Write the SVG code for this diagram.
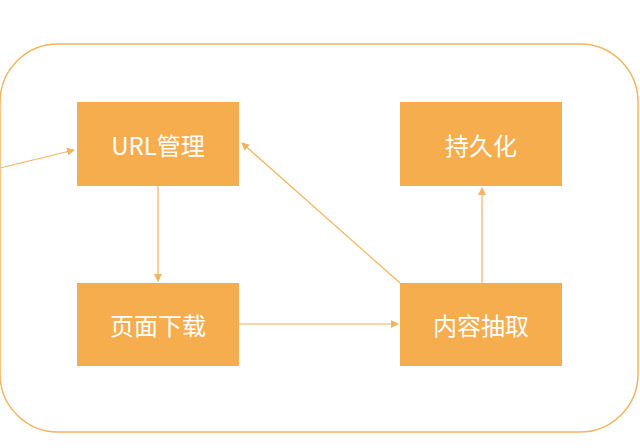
<svg xmlns="http://www.w3.org/2000/svg" width="640" height="448" viewBox="0 0 640 448">
<style>
.box{fill:#F5AD4E}
.t{fill:#fff;font-family:"Noto Sans CJK SC","Noto Sans",sans-serif;font-size:24px;text-anchor:middle;dominant-baseline:central}
.c{stroke:#F2B45E;stroke-width:1.2;fill:none;marker-end:url(#a)}
</style>
<defs><marker id="a" markerWidth="8" markerHeight="8" refX="7" refY="4" orient="auto" markerUnits="userSpaceOnUse"><path d="M0,0L8,4L0,8Z" fill="#F2B45E"/></marker></defs>
<rect width="640" height="448" fill="#fff"/>
<rect x="0" y="44" width="638" height="388" rx="58" fill="none" stroke="#F2B45E" stroke-width="1.5"/>
<g id="url"><rect class="box" x="77" y="102" width="162" height="84"/><text class="t" x="158" y="144">URL管理</text></g>
<g id="persist"><rect class="box" x="400" y="102" width="162" height="84"/><text class="t" x="481" y="144">持久化</text></g>
<g id="download"><rect class="box" x="77" y="283" width="162" height="83"/><text class="t" x="158" y="324">页面下载</text></g>
<g id="extract"><rect class="box" x="400" y="283" width="162" height="83"/><text class="t" x="481" y="324">内容抽取</text></g>
<g id="connectors">
<line class="c" x1="0" y1="168" x2="74" y2="150"/>
<line class="c" x1="158" y1="186" x2="158" y2="281"/>
<line class="c" x1="239" y1="324" x2="398" y2="324"/>
<line class="c" x1="400" y1="283" x2="242" y2="143"/>
<line class="c" x1="482" y1="283" x2="482" y2="188"/>
</g>
</svg>
